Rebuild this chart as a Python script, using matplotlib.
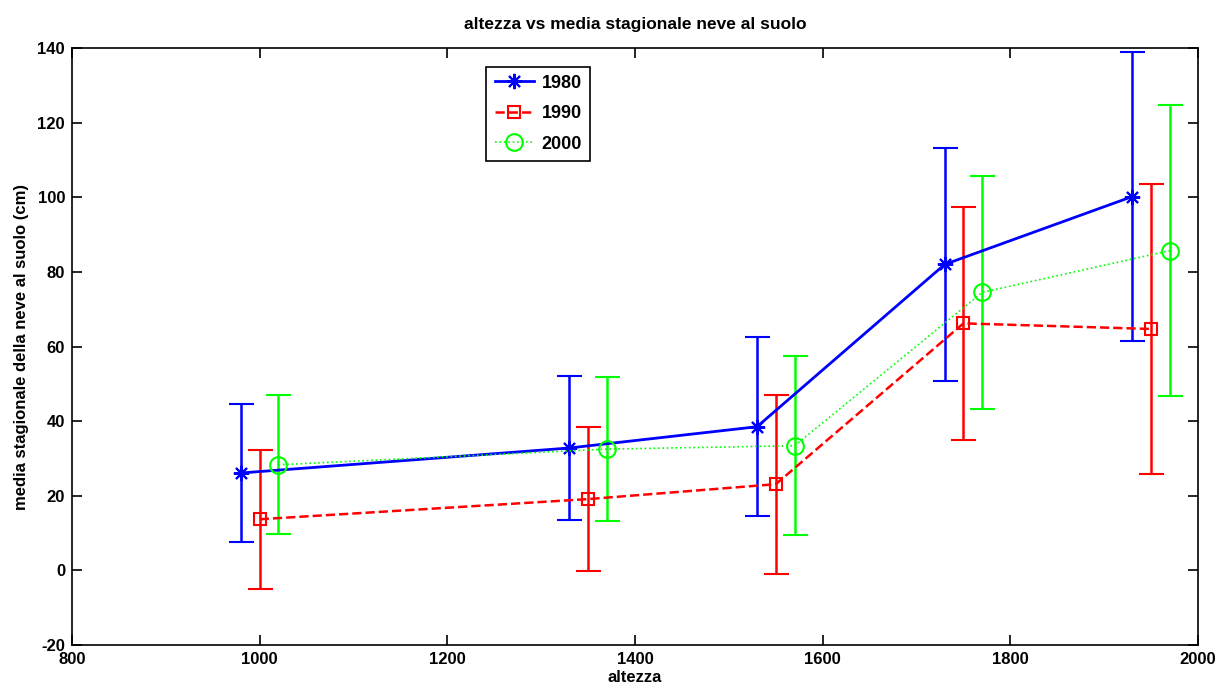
import numpy as np
import matplotlib.pyplot as plt
from matplotlib.lines import Line2D

plt.rcParams['font.family'] = ['Liberation Sans', 'DejaVu Sans']
plt.rcParams['font.weight'] = 'bold'
plt.rcParams['axes.unicode_minus'] = False

# altitudes (slightly shifted per decade like the original)
alt_1980 = [980, 1330, 1530, 1730, 1930]
alt_1990 = [1000, 1350, 1550, 1750, 1950]
alt_2000 = [1020, 1370, 1570, 1770, 1970]

media_1980 = [26.1, 32.8, 38.5, 82.0, 100.2]
media_1990 = [13.7, 19.1, 23.1, 66.2, 64.7]
media_2000 = [28.3, 32.5, 33.4, 74.5, 85.7]

err_1980 = [18.6, 19.2, 24.0, 31.2, 38.8]
err_1990 = [18.6, 19.2, 24.0, 31.3, 38.9]
err_2000 = [18.6, 19.3, 24.0, 31.2, 38.9]

anni = ['1980', '1990', '2000']

fig = plt.figure(figsize=(12.25, 6.96), dpi=100)
ax = fig.add_axes([0.0588, 0.0733, 0.9192, 0.8577])

stili = [
    dict(color='#0000ff', ls='-', lw=2, marker=(8, 2, 0), ms=11, mew=1.5),
    dict(color='#ff0000', ls='--', lw=1.8, marker='s', ms=9, mfc='none', mew=1.5),
    dict(color='#00ff00', ls=':', lw=1.2, marker='o', ms=12, mfc='none', mew=1.5),
]

serie = [(alt_1980, media_1980, err_1980), (alt_1990, media_1990, err_1990),
         (alt_2000, media_2000, err_2000)]
for (x, y, e), st in zip(serie, stili):
    ax.errorbar(x, y, yerr=e, capsize=9, elinewidth=1.8, capthick=1.8, **st)

ax.set_xlim(800, 2000)
ax.set_ylim(-20, 140)
ax.set_xticks(np.arange(800, 2001, 200))
ax.set_yticks(np.arange(-20, 141, 20))
ax.tick_params(direction='in', length=7, width=1.2, top=True, right=True,
               labelsize=12, pad=5)
for s in ax.spines.values():
    s.set_linewidth(1.2)

ax.set_xlabel('altezza', fontsize=12, fontweight='bold', labelpad=2)
ax.set_ylabel('media stagionale della neve al suolo (cm)', fontsize=12,
              fontweight='bold', labelpad=6)
ax.set_title('altezza vs media stagionale neve al suolo', fontsize=12.5,
             fontweight='bold', pad=14)

# legenda solo linea + marker (come in MATLAB)
handles = [Line2D([], [], **st) for st in stili]
leg = ax.legend(handles, anni, loc='upper left',
                bbox_to_anchor=(0.368, 0.969), fontsize=13,
                fancybox=False, edgecolor='black', framealpha=1,
                handlelength=2.2, handletextpad=0.4, borderpad=0.45,
                labelspacing=0.75, borderaxespad=0)
leg.get_frame().set_linewidth(1.2)

plt.savefig('out.png', dpi=100)
